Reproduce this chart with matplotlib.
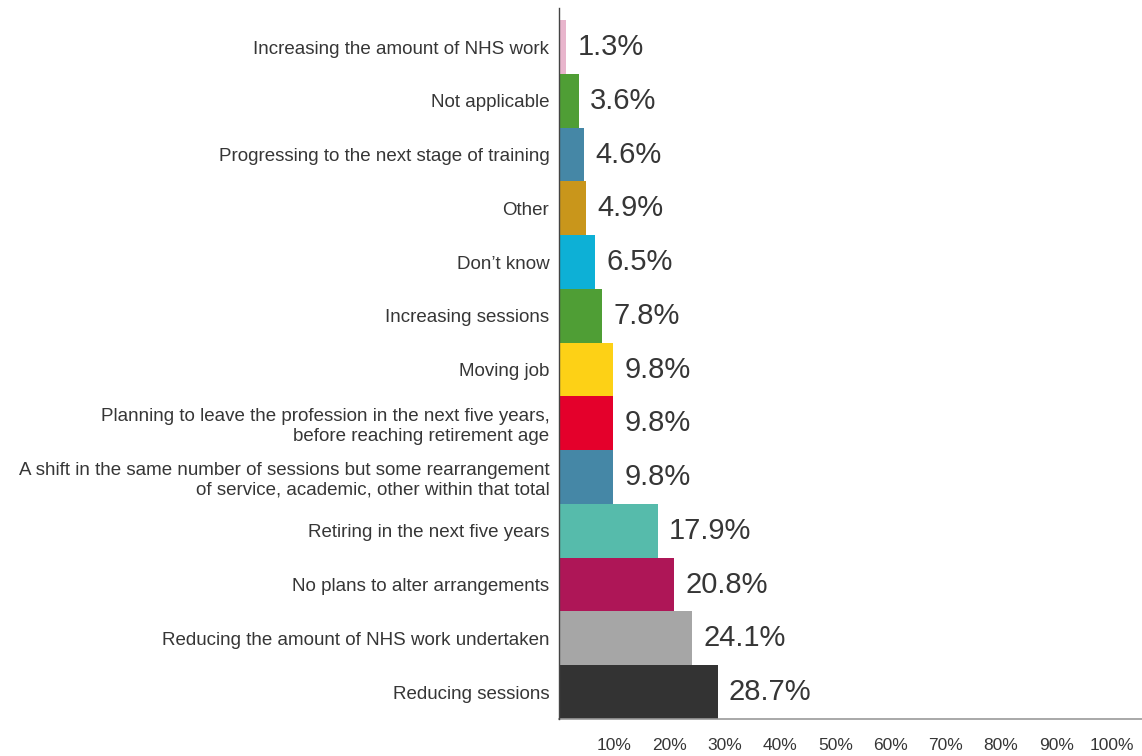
"""Horizontal bar chart of planned changes to working arrangements."""

import matplotlib
matplotlib.use("Agg")
import matplotlib.pyplot as plt

plt.rcParams["font.family"] = ["Liberation Sans", "DejaVu Sans"]

# Data, listed bottom to top
categories = [
    "Reducing sessions",
    "Reducing the amount of NHS work undertaken",
    "No plans to alter arrangements",
    "Retiring in the next five years",
    "A shift in the same number of sessions but some rearrangement\n"
    "of service, academic, other within that total",
    "Planning to leave the profession in the next five years,\n"
    "before reaching retirement age",
    "Moving job",
    "Increasing sessions",
    "Don\u2019t know",
    "Other",
    "Progressing to the next stage of training",
    "Not applicable",
    "Increasing the amount of NHS work",
]
values = [28.7, 24.1, 20.8, 17.9, 9.8, 9.8, 9.8, 7.8, 6.5, 4.9, 4.6, 3.6, 1.3]
colors = [
    "#333333", "#a6a6a6", "#ae1657", "#56bbab", "#4587a6", "#e4002b",
    "#fdd116", "#4f9e35", "#0db0d6", "#c9961b", "#4587a6", "#4f9e35",
    "#e8b5cc",
]
tick_values = [10, 20, 30, 40, 50, 60, 70, 80, 90, 100]


def plot():
    """Create plot."""
    fig = plt.figure(figsize=(11.42, 7.56), dpi=100)
    ax = fig.add_axes([0.4895, 0.049, 0.5105, 0.94])

    y = range(len(values))
    ax.barh(y, values, height=1.0, color=colors, zorder=2)

    for yi, v in zip(y, values):
        ax.annotate(f"{v}%", (v, yi), xytext=(8, 0), textcoords="offset points",
                    va="center", ha="left", fontsize=21, color="#363636")

    ax.set_yticks(list(y))
    ax.set_yticklabels(categories, fontsize=13.5, color="#363636",
                       multialignment="right")
    ax.tick_params(axis="y", length=0, pad=7)

    ax.set_xticks(tick_values)
    ax.set_xticklabels([f"{t}%" for t in tick_values], fontsize=12.5, color="#363636")
    ax.tick_params(axis="x", length=0, pad=14)

    ax.set_xlim(0, 105.5)
    ax.set_ylim(-0.5, len(values) - 0.28)

    for side in ("top", "right"):
        ax.spines[side].set_visible(False)
    ax.spines["left"].set_color("#444444")
    ax.spines["left"].set_linewidth(1.0)
    ax.spines["left"].set_zorder(3)
    ax.spines["bottom"].set_color("#999999")
    ax.spines["bottom"].set_linewidth(1.2)

    fig.savefig("out.png", dpi=100)


if __name__ == "__main__":
    plot()
